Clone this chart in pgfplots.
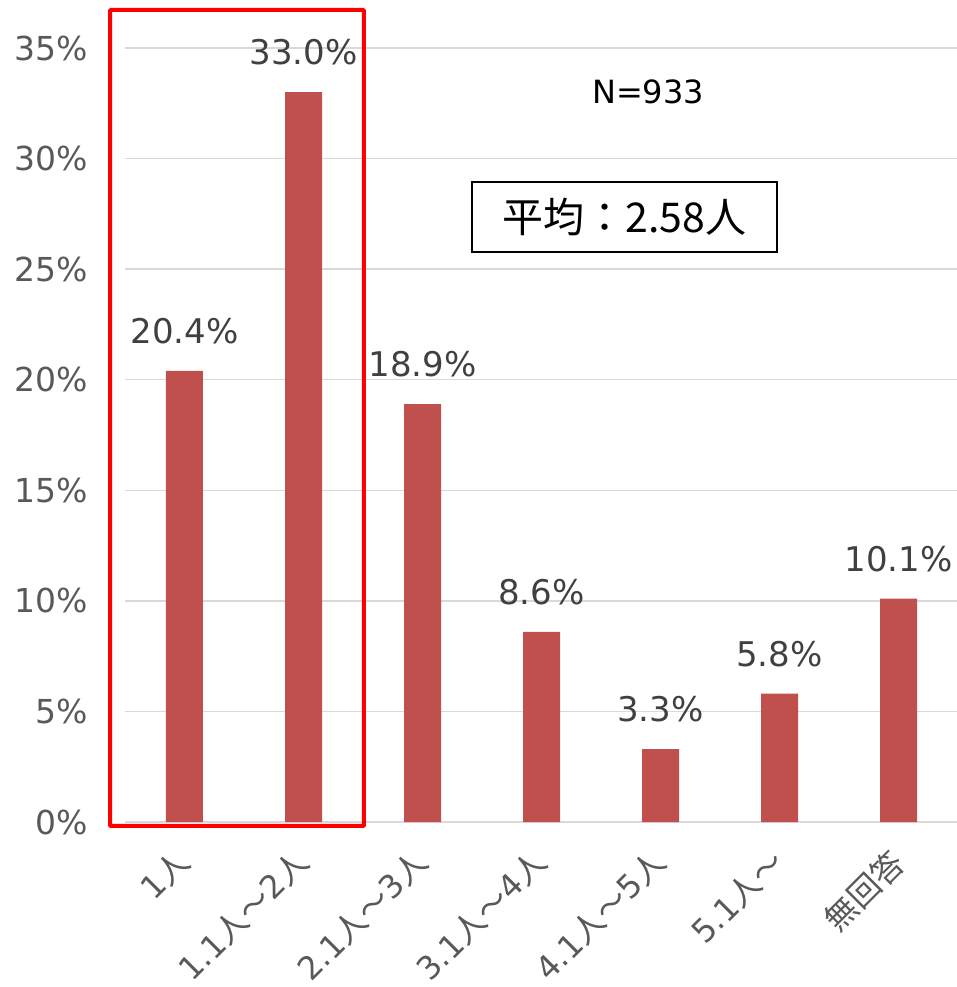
\documentclass[border=0pt]{standalone}
\usepackage{pgfplots}
\pgfplotsset{compat=1.18}
\usepackage{fontspec}
\setmainfont{DejaVu Sans}
\newfontfamily\cjk{Noto Sans CJK JP}
\definecolor{barred}{HTML}{C0504D}
\definecolor{axgray}{HTML}{595959}
\definecolor{lblgray}{HTML}{404040}
\definecolor{gridgray}{HTML}{D9D9D9}
\begin{document}
\begin{tikzpicture}
\begin{axis}[
  name=ax, at={(0,0)}, anchor=south west,
  scale only axis, width=833bp, height=774bp,
  xmin=-0.5, xmax=6.5, ymin=0, ymax=35,
  clip=false,
  axis line style={draw=none},
  major tick length=0pt,
  ymajorgrids, grid style={gridgray, line width=1.5bp},
  ytick={0,5,...,35},
  /pgf/number format/assume math mode=true,
  yticklabel={\pgfmathprintnumber{\tick}\%},
  yticklabel style={anchor=east, inner sep=0pt, xshift=-37bp, text=axgray, font=\fontsize{33bp}{39bp}\selectfont},
  xtick={0,...,6},
  xticklabels={1{\cjk 人}, 1.1{\cjk 人〜}2{\cjk 人}, 2.1{\cjk 人〜}3{\cjk 人}, 3.1{\cjk 人〜}4{\cjk 人}, 4.1{\cjk 人〜}5{\cjk 人}, 5.1{\cjk 人〜}, {\cjk 無回答}},
  xticklabel style={xshift=-11bp, yshift=-24bp, rotate=45, anchor=north east, inner sep=0pt, text=axgray, font=\fontsize{32bp}{38bp}\selectfont},
  ybar, bar width=37bp,
  nodes near coords={\pgfmathprintnumber[fixed,fixed zerofill,precision=1]{\pgfplotspointmeta}\%},
  nodes near coords style={anchor=base, inner sep=0pt, yshift=27.5bp, text=lblgray, font=\fontsize{34bp}{40bp}\selectfont},
]
\addplot[fill=barred, draw=none] coordinates {(0,20.4) (1,33.0) (2,18.9) (3,8.6) (4,3.3) (5,5.8) (6,10.1)};
\draw[red, line width=4bp, rounded corners=1bp] (axis cs:-0.626,-0.18) rectangle (axis cs:1.508,36.72);
\node[text=black, font=\fontsize{32bp}{37bp}\selectfont] at (axis cs:3.895,33.0) {N=933};
\node[draw=black, line width=1.5bp, minimum width=305bp, minimum height=70bp, inner sep=0pt, font=\cjk\fontsize{41bp}{47bp}\selectfont] at (axis cs:3.697,27.36) {平均：2.58人};
\end{axis}
\pgfresetboundingbox
\path (ax.south west) ++(-125bp,-165bp) rectangle ++(957bp,987bp);
\end{tikzpicture}
\end{document}
